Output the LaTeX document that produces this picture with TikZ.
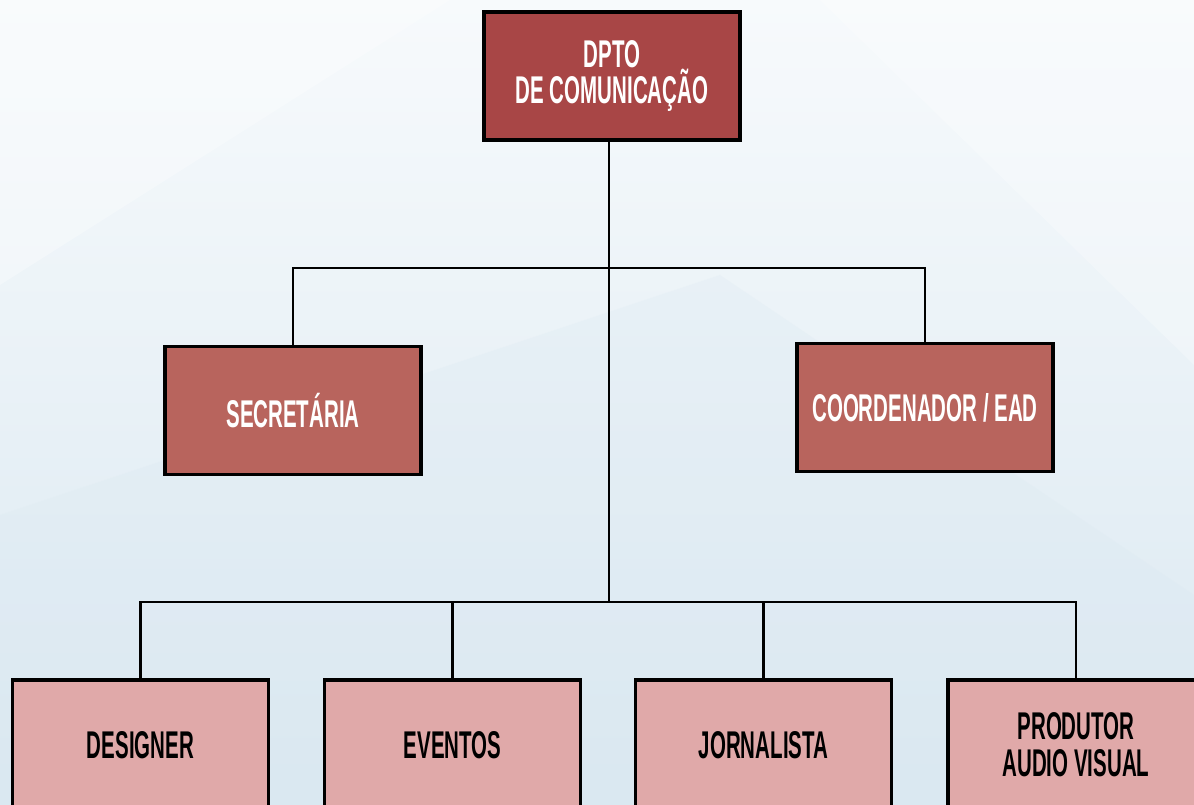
\documentclass[tikz,border=0pt]{standalone}
\usepackage{fontspec}
\setmainfont{Liberation Sans}[FakeStretch=0.53]
\usetikzlibrary{positioning}
\definecolor{darkred}{HTML}{A84646}
\definecolor{midred}{HTML}{B8645D}
\definecolor{lightred}{HTML}{E0A9A9}
\definecolor{bgtop}{HTML}{F7FAFC}
\definecolor{bgbot}{HTML}{DAE8F1}
\tikzset{
  unitbox/.style={rectangle,draw=black,line width=1pt,inner sep=1pt,minimum width=2.56cm,minimum height=1.28cm,align=center,font=\bfseries\fontsize{11}{10.5}\selectfont},
  chief/.style={unitbox,fill=darkred,text=white},
  staff/.style={unitbox,fill=midred,text=white},
  team/.style={unitbox,fill=lightred,text=black,minimum height=1.30cm},
  link/.style={draw=black,line width=0.7pt}
}
\begin{document}
\begin{tikzpicture}
\shade[top color=bgtop,bottom color=bgbot] (0,0) rectangle (11.94,8.05);
\fill[white,opacity=0.3] (0,8.05) -- (4.5,8.05) -- (0,5.2) -- cycle;
\fill[bgbot,opacity=0.25] (0,2.9) -- (7.2,5.3) -- (11.94,2.1) -- (11.94,0) -- (0,0) -- cycle;
\fill[white,opacity=0.25] (8.2,8.05) -- (11.94,8.05) -- (11.94,4.4) -- cycle;
\useasboundingbox (0,0) rectangle (11.94,8.05);

\node[chief] (dpto) at (6.12,7.29) {DPTO\\DE COMUNICAÇÃO};
\node[staff] (sec) at (2.93,3.945) {SECRETÁRIA};
\node[staff] (coord) at (9.25,3.975) {COORDENADOR / EAD};
\node[team] (des) at (1.405,0.60) {DESIGNER};
\node[team] (eve) at (4.525,0.60) {EVENTOS};
\node[team] (jor) at (7.635,0.60) {JORNALISTA};
\node[team] (prod) at (10.76,0.60) {PRODUTOR\\AUDIO VISUAL};

\coordinate (upper) at (6.09,5.37);
\coordinate (lower) at (6.09,2.03);

\draw[link] (dpto.south -| upper) -- (lower);
\draw[link] (sec.north) |- (upper) -| (coord.north);
\draw[link] (des.north) |- (lower) -| (prod.north);
\draw[link] (eve.north) -- (eve.north |- lower);
\draw[link] (jor.north) -- (jor.north |- lower);

\end{tikzpicture}
\end{document}
